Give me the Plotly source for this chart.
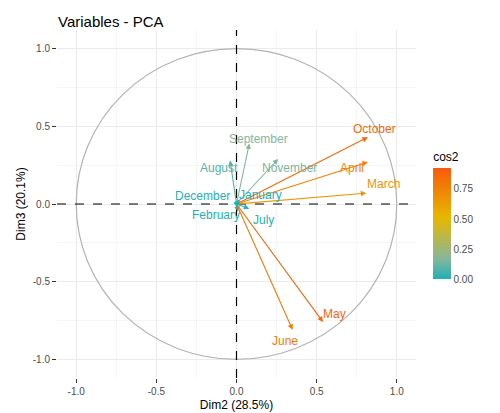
import plotly.graph_objects as go
from plotly.colors import sample_colorscale

months = ["October", "April", "March", "September", "November", "August",
          "January", "December", "February", "July", "May", "June"]
dim2 = [0.82, 0.82, 0.81, 0.08, 0.26, -0.04, 0.02, -0.02, 0.01, 0.08, 0.54, 0.35]
dim3 = [0.43, 0.27, 0.07, 0.39, 0.29, 0.28, 0.03, 0.01, -0.05, -0.03, -0.76, -0.81]
cos2 = [x * x + y * y for x, y in zip(dim2, dim3)]

label_x = [0.86, 0.72, 0.92, 0.14, 0.33, -0.11, 0.15, -0.21, -0.13, 0.17, 0.61, 0.30]
label_y = [0.48, 0.23, 0.13, 0.42, 0.23, 0.23, 0.06, 0.05, -0.07, -0.10, -0.71, -0.88]

CMAX = 0.92
SCALE = [[0, "#1fb0b8"], [0.18, "#86b69c"], [0.55, "#E7B800"], [1, "#F85A0C"]]
colors = sample_colorscale(SCALE, [min(c / CMAX, 1) for c in cos2])

fig = go.Figure()
fig.add_shape(type="circle", x0=-1, y0=-1, x1=1, y1=1, line=dict(color="#b3b3b3", width=1.2))
fig.add_shape(type="line", x0=-1.12, x1=1.12, y0=0, y1=0, line=dict(color="black", dash="dash", width=1.2))
fig.add_shape(type="line", x0=0, x1=0, y0=-1.12, y1=1.12, line=dict(color="black", dash="dash", width=1.2))

for m, x, y, lx, ly, c in zip(months, dim2, dim3, label_x, label_y, colors):
    fig.add_annotation(x=x, y=y, ax=0, ay=0, xref="x", yref="y", axref="x", ayref="y",
                       showarrow=True, arrowhead=2, arrowsize=1, arrowwidth=1.1,
                       arrowcolor=c, text="")
    fig.add_annotation(x=lx, y=ly, text=m, showarrow=False, font=dict(color=c, size=12))

fig.add_trace(go.Scatter(
    x=[None], y=[None], mode="markers", showlegend=False,
    marker=dict(color=[0], cmin=0, cmax=CMAX, colorscale=SCALE, showscale=True,
                colorbar=dict(title=dict(text="cos2", font=dict(size=12)), len=0.43, lenmode="fraction",
                              thickness=18, tickvals=[0, 0.25, 0.5, 0.75],
                              ticktext=["0.00", "0.25", "0.50", "0.75"],
                              tickfont=dict(size=10, color="#4d4d4d"), outlinewidth=0,
                              y=0.47, x=1.02)),
))

ax = dict(showline=False, zeroline=False, gridcolor="#ebebeb", ticks="outside",
          tickcolor="#333", ticklen=4, tickfont=dict(size=10, color="#4d4d4d"),
          tickvals=[-1, -0.5, 0, 0.5, 1], ticktext=["-1.0", "-0.5", "0.0", "0.5", "1.0"],
          minor=dict(showgrid=True, gridcolor="#f5f5f5", dtick=0.25))
fig.update_xaxes(range=[-1.12, 1.12], title=dict(text="Dim2 (28.5%)", font=dict(size=12), standoff=4), **ax)
fig.update_yaxes(range=[-1.12, 1.12], title=dict(text="Dim3 (20.1%)", font=dict(size=12), standoff=4), **ax)
fig.update_layout(
    width=500, height=413, plot_bgcolor="white", paper_bgcolor="white",
    font=dict(family="Liberation Sans, Arial", color="black"),
    title=dict(text="Variables - PCA", x=0.1, y=0.98, font=dict(size=15)),
    margin=dict(l=47, r=92, t=22, b=34),
)
fig.write_html("out.html")
